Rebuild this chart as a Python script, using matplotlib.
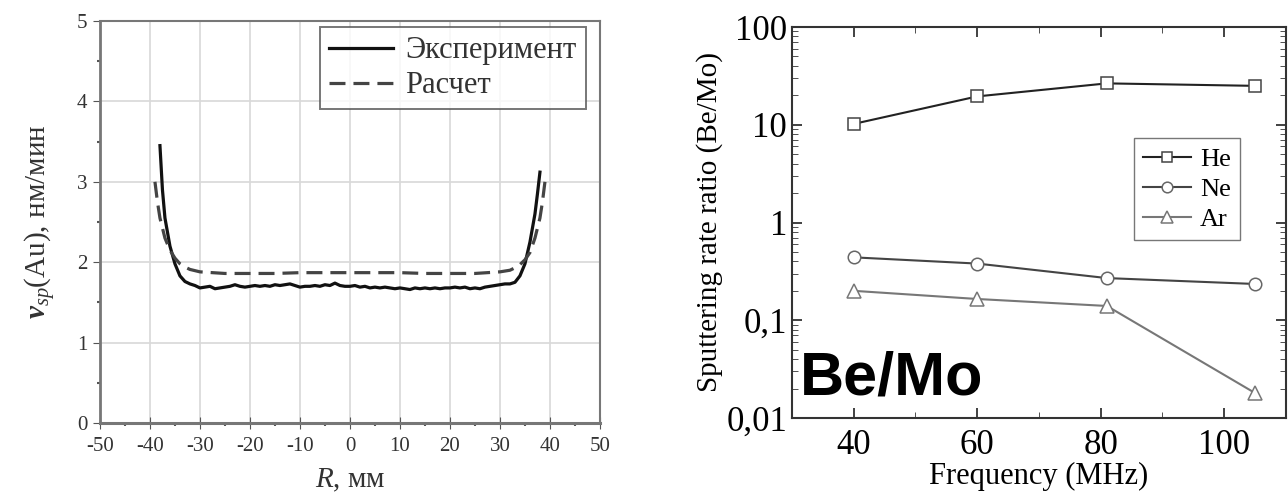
import matplotlib.pyplot as plt
from matplotlib.ticker import MultipleLocator, FixedLocator, FixedFormatter, LogLocator, NullFormatter

plt.rcParams['font.family'] = ['Liberation Serif', 'DejaVu Serif']
plt.rcParams['mathtext.fontset'] = 'custom'
plt.rcParams['mathtext.rm'] = 'Liberation Serif'
plt.rcParams['mathtext.it'] = 'Liberation Serif:italic'
plt.rcParams['mathtext.bf'] = 'Liberation Serif:bold:italic'
plt.rcParams['axes.unicode_minus'] = False

# left panel: profile of sputtering rate
r_exp = [-38, -37.5, -37, -36, -35, -34, -33, -32, -31, -30, -29, -28, -27, -26, -25,
         -24, -23, -22, -21, -20, -19, -18, -17, -16, -15, -14, -13, -12, -11, -10,
         -9, -8, -7, -6, -5, -4, -3, -2, -1, 0, 1, 2, 3, 4, 5, 6, 7, 8, 9, 10,
         11, 12, 13, 14, 15, 16, 17, 18, 19, 20, 21, 22, 23, 24, 25, 26, 27, 28,
         29, 30, 31, 32, 33, 34, 35, 36, 37, 37.5, 38]
v_exp = [3.45, 2.9, 2.55, 2.2, 1.98, 1.83, 1.76, 1.73, 1.71, 1.68, 1.69, 1.70, 1.67, 1.68, 1.69,
         1.70, 1.72, 1.70, 1.69, 1.70, 1.71, 1.70, 1.71, 1.70, 1.72, 1.71, 1.72, 1.73, 1.71, 1.69,
         1.70, 1.70, 1.71, 1.70, 1.72, 1.71, 1.74, 1.71, 1.70, 1.70, 1.71, 1.69, 1.70, 1.68, 1.69, 1.68, 1.69, 1.68, 1.67, 1.68,
         1.67, 1.66, 1.68, 1.67, 1.68, 1.67, 1.68, 1.67, 1.68, 1.68, 1.69, 1.68, 1.69, 1.67, 1.68, 1.67, 1.69, 1.70,
         1.71, 1.72, 1.73, 1.73, 1.75, 1.83, 1.98, 2.25, 2.6, 2.85, 3.12]

r_calc = [-39, -38.5, -38, -37, -36, -35, -34, -33, -32, -30, -25, -20, -15, -10, -5, 0,
          5, 10, 15, 20, 25, 30, 32, 33, 34, 35, 36, 37, 38, 38.5, 39]
v_calc = [3.0, 2.75, 2.55, 2.3, 2.15, 2.05, 1.98, 1.94, 1.91, 1.88, 1.86, 1.86, 1.86, 1.87, 1.87, 1.87,
          1.87, 1.87, 1.86, 1.86, 1.86, 1.88, 1.90, 1.93, 1.97, 2.03, 2.12, 2.3, 2.55, 2.75, 3.0]

# right panel: Be/Mo sputtering rate ratio
freq = [40, 60, 81, 105]
he = [10.2, 19.5, 26.5, 25.0]
ne = [0.44, 0.38, 0.27, 0.235]
ar = [0.20, 0.165, 0.14, 0.018]

fig = plt.figure(figsize=(12.88, 5), dpi=100)

ax1 = fig.add_axes([0.0776, 0.154, 0.3882, 0.804])
ax1.plot(r_exp, v_exp, color='#111111', lw=2.3, label='Эксперимент')
ax1.plot(r_calc, v_calc, color='#444444', lw=2.3, ls=(0, (5, 2.5)), label='Расчет')
ax1.set_xlim(-50, 50)
ax1.set_ylim(0, 5)
ax1.xaxis.set_major_locator(MultipleLocator(10))
ax1.xaxis.set_minor_locator(MultipleLocator(5))
ax1.yaxis.set_major_locator(MultipleLocator(1))
ax1.yaxis.set_minor_locator(MultipleLocator(0.5))
ax1.grid(True, color='#d8d8d8', lw=1.2)
ax1.set_axisbelow(True)
ax1.tick_params(which='both', colors='#555555', labelsize=15, labelcolor='#333333')
ax1.tick_params(axis='x', which='major', direction='inout', length=8, pad=6)
ax1.tick_params(axis='y', which='major', direction='out', length=5, pad=4)
ax1.tick_params(which='minor', direction='out', length=2.5, width=1.5)
for s in ax1.spines.values():
    s.set_color('#777777')
    s.set_linewidth(1.5)
ax1.spines['bottom'].set_linewidth(2.2)
ax1.spines['left'].set_linewidth(2.0)
ax1.set_xlabel('$R$, мм', fontsize=21, color='#333333', labelpad=8)
ax1.set_ylabel(r'$\mathbf{v}_{sp}$(Au), нм/мин', fontsize=21, color='#333333', labelpad=14)
leg1 = ax1.legend(loc='upper right', fontsize=22, frameon=True, fancybox=False,
                  handlelength=2.1, handletextpad=0.4, borderpad=0.3, labelspacing=0.2,
                  borderaxespad=0, bbox_to_anchor=(0.972, 0.985))
leg1.get_frame().set_edgecolor('#555555')
leg1.get_frame().set_linewidth(1.4)
for t in leg1.get_texts():
    t.set_color('#333333')

ax2 = fig.add_axes([0.6149, 0.164, 0.3835, 0.782])
ax2.plot(freq, he, color='#222222', lw=1.5, marker='s', ms=8, mfc='white', mec='#444444', mew=1.1, label='He')
ax2.plot(freq, ne, color='#444444', lw=1.5, marker='o', ms=9, mfc='white', mec='#666666', mew=1.1, label='Ne')
ax2.plot(freq, ar, color='#777777', lw=1.5, marker='^', ms=10, mfc='white', mec='#777777', mew=1.1, label='Ar')
ax2.set_yscale('log')
ax2.set_xlim(30, 110)
ax2.set_ylim(0.01, 100)
ax2.xaxis.set_major_locator(FixedLocator([40, 60, 80, 100]))
ax2.xaxis.set_minor_locator(FixedLocator([50, 70, 90]))
ax2.yaxis.set_major_locator(FixedLocator([0.01, 0.1, 1, 10, 100]))
ax2.yaxis.set_major_formatter(FixedFormatter(['0,01', '0,1', '1', '10', '100']))
ax2.yaxis.set_minor_locator(LogLocator(base=10, subs=range(2, 10)))
ax2.yaxis.set_minor_formatter(NullFormatter())
ax2.tick_params(which='both', direction='in', top=True, right=True, labelsize=25, color='#333333')
ax2.tick_params(which='major', length=7, width=1.3)
ax2.tick_params(which='minor', length=4)
ax2.tick_params(axis='x', pad=8)
for s in ax2.spines.values():
    s.set_color('#333333')
    s.set_linewidth(1.5)
ax2.set_xlabel('Frequency (MHz)', fontsize=22, labelpad=0)
ax2.set_ylabel('Sputtering rate ratio (Be/Mo)', fontsize=21, labelpad=2)
ax2.text(0.015, 0.06, 'Be/Mo', transform=ax2.transAxes, fontsize=44, fontweight='bold',
         family='Liberation Sans', ha='left', va='baseline')
leg2 = ax2.legend(loc='upper right', bbox_to_anchor=(0.907, 0.716), fontsize=19, frameon=True,
                  fancybox=False, handlelength=1.8, handletextpad=0.35, borderpad=0.35,
                  labelspacing=0.25, borderaxespad=0, markerscale=0.85)
leg2.get_frame().set_edgecolor('#555555')
leg2.get_frame().set_linewidth(1.0)

fig.savefig('out.png', dpi=100)
